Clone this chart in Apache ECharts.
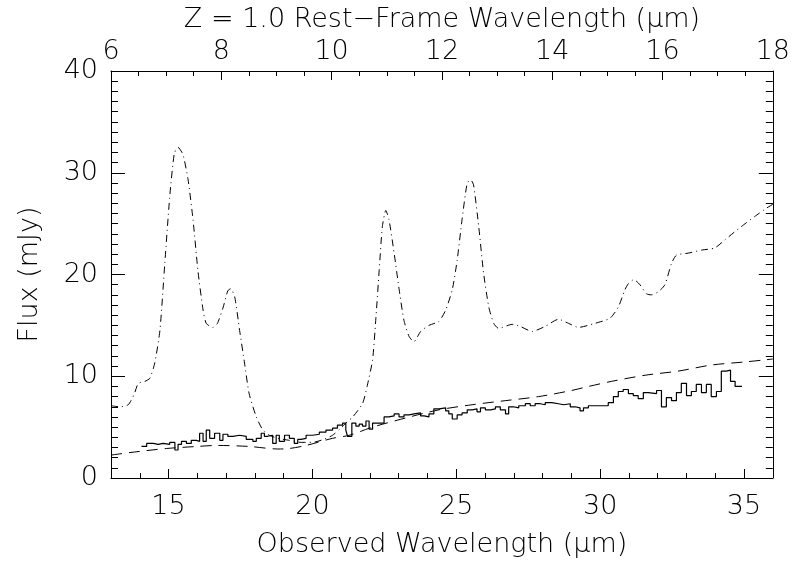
<!DOCTYPE html>
<html><head><meta charset="utf-8">
<script src="https://cdn.jsdelivr.net/npm/echarts@6/dist/echarts.min.js"></script>
<style>html,body{margin:0;padding:0;background:#fff}#c{width:793px;height:563px}</style>
</head><body><div id="c"></div>
<script>
// Bottom axis (observed wavelength) ticks
const obsMajorTicks = [15, 20, 25, 30, 35];
const obsMinorTicks = [14, 16, 17, 18, 19, 21, 22, 23, 24, 26, 27, 28, 29, 31, 32, 33, 34];
// Dash-dot model spectrum
const modelWave = [13.0,13.3,13.6,13.8,13.95,14.18,14.35,14.52,14.7,14.87,15.04,15.2,15.33,15.5,15.68,15.85,16.02,16.2,16.31,16.54,16.7,16.9,17.06,17.16,17.3,17.47,17.64,17.8,18.05,18.28,18.5,18.8,19.2,19.6,20.0,20.4,20.7,20.95,21.2,21.4,21.74,21.9,22.09,22.2,22.32,22.43,22.55,22.66,22.84,23.0,23.18,23.36,23.53,23.76,24.05,24.4,24.63,24.86,25.03,25.2,25.38,25.5,25.6,25.78,25.95,26.13,26.3,26.47,26.94,27.22,27.63,28.09,28.55,28.9,29.25,29.82,30.34,30.63,30.86,30.98,31.17,31.38,31.61,31.78,32.02,32.25,32.48,32.65,33.06,33.52,33.98,34.33,34.9,35.37,35.77,36.0];
const modelFlux = [7.1,7.0,7.2,8.2,9.3,9.5,9.8,11.3,14.5,21.1,27.6,31.9,32.5,31.8,29.3,25.4,20.4,16.5,15.2,14.8,15.2,16.8,18.4,18.6,17.8,14.5,11.3,8.3,6.0,4.7,4.2,3.9,3.7,3.5,3.5,3.8,4.2,4.8,5.5,6.0,7.3,9.0,11.6,15.5,20.4,24.7,26.3,25.4,22.1,18.8,15.5,13.9,13.4,14.4,15.0,15.4,16.5,18.5,21.4,25.4,29.0,29.3,28.8,24.7,20.1,16.8,15.2,14.7,15.1,14.9,14.4,14.9,15.6,15.2,14.8,15.2,15.7,16.8,18.5,19.1,19.5,19.0,18.1,18.0,18.3,19.0,21.1,21.9,22.1,22.4,22.6,23.4,24.7,25.7,26.5,26.9];
// Dashed continuum
const contWave = [13.0,13.66,14.93,16.0,16.66,17.8,18.8,19.2,19.78,20.7,21.28,22.09,23.24,24.4,25.55,26.7,27.86,29.0,29.6,30.4,31.56,32.7,33.86,35.0,35.7,36.0];
const contFlux = [2.25,2.5,2.9,3.1,3.2,3.1,2.85,2.9,3.2,3.9,4.2,5.0,5.9,6.7,7.2,7.6,8.0,8.6,9.0,9.5,10.1,10.5,11.1,11.4,11.6,11.7];
// Solid observed spectrum (bin left edges and flux)
const specWave = [14.06,14.24,14.47,14.64,14.81,15.04,15.22,15.33,15.45,15.62,15.79,15.97,16.08,16.2,16.31,16.43,16.6,16.78,16.89,17.06,17.24,17.47,17.7,17.93,18.05,18.22,18.33,18.45,18.62,18.74,18.85,19.03,19.2,19.37,19.49,19.6,19.78,20.01,20.24,20.47,20.7,20.87,21.05,21.16,21.22,21.37,21.51,21.625,21.74,21.86,21.97,22.09,22.49,22.66,22.84,23.01,23.18,23.36,23.53,23.76,23.88,24.05,24.22,24.4,24.63,24.74,24.86,25.03,25.2,25.38,25.55,25.72,25.84,26.01,26.19,26.36,26.53,26.71,26.82,26.99,27.17,27.4,27.57,27.74,27.92,28.09,28.32,28.55,28.73,28.96,29.13,29.3,29.42,29.59,30.28,30.46,30.63,30.8,30.98,31.15,31.32,31.5,31.67,31.96,32.13,32.3,32.48,32.65,32.82,33.0,33.17,33.34,33.52,33.69,33.86,34.04,34.21,34.38,34.53,34.69,34.93];
const specFlux = [3.1,3.4,3.3,3.4,3.3,3.5,2.75,3.3,3.6,3.4,3.7,3.6,4.4,3.6,4.7,3.9,4.4,3.7,4.3,4.1,4.2,4.1,3.8,3.6,3.9,4.4,4.1,4.2,3.4,4.2,3.6,4.2,3.9,3.4,3.8,3.9,4.2,4.3,4.5,4.7,4.9,5.2,5.4,4.7,4.1,5.4,5.1,5.3,5.1,5.6,4.8,5.4,6.0,6.1,6.3,6.0,6.2,6.3,6.4,6.1,6.0,6.3,6.8,6.9,6.6,6.3,5.8,6.2,6.4,6.7,6.8,6.5,6.9,6.7,6.8,7.0,6.7,6.3,7.0,6.9,7.1,7.3,7.1,7.3,7.2,7.4,7.3,7.2,7.3,7.0,6.9,6.6,6.9,7.1,7.4,8.0,8.5,8.7,8.3,8.1,7.8,8.4,8.3,8.6,7.0,7.9,7.6,8.4,9.3,8.1,8.5,9.2,8.4,9.2,8.0,8.5,10.5,10.6,9.5,9.0,9.0];

const zip = (a, b) => a.map((v, i) => [v, b[i]]);
const FONT = 'DejaVu Sans';
const txt = { fontFamily: FONT, fontSize: 27, fontWeight: 200, color: '#000' };
const axLine = { show: true, lineStyle: { color: '#000', width: 1 } };

const chart = echarts.init(document.getElementById('c'), null, { renderer: 'canvas' });
chart.setOption({
  animation: false,
  backgroundColor: '#fff',
  title: { text: 'Z = 1.0 Rest\u2212Frame Wavelength (\u03bcm)', left: 442, top: 6, textAlign: 'center',
    padding: 0, textStyle: txt },
  grid: { left: 111, right: 19, top: 71, bottom: 85, containLabel: false },
  xAxis: [
    { type: 'value', position: 'bottom', min: 13, max: 36,
      axisLine: axLine,
      axisTick: { show: true, inside: true, length: 9, customValues: obsMajorTicks, lineStyle: { color: '#000' } },
      axisLabel: Object.assign({ margin: 15, customValues: obsMajorTicks }, txt),
      splitLine: { show: false },
      name: 'Observed Wavelength (\u03bcm)', nameLocation: 'middle', nameGap: 53,
      nameTextStyle: txt },
    { type: 'value', position: 'bottom', min: 13, max: 36,
      axisLine: { show: false },
      axisTick: { show: true, inside: true, length: 5, customValues: obsMinorTicks, lineStyle: { color: '#000' } },
      axisLabel: { show: false }, splitLine: { show: false } },
    { type: 'value', position: 'top', min: 6, max: 18, interval: 2,
      axisLine: axLine,
      axisTick: { show: true, inside: true, length: 9, lineStyle: { color: '#000' } },
      minorTick: { show: true, splitNumber: 4, length: 5, lineStyle: { color: '#000' } },
      axisLabel: Object.assign({ margin: 6 }, txt),
      splitLine: { show: false } }
  ],
  yAxis: [
    { type: 'value', position: 'left', min: 0, max: 40, interval: 10,
      axisLine: axLine,
      axisTick: { show: true, inside: true, length: 14, lineStyle: { color: '#000' } },
      minorTick: { show: true, splitNumber: 10, length: 7, lineStyle: { color: '#000' } },
      axisLabel: Object.assign({ margin: 13 }, txt),
      splitLine: { show: false },
      name: 'Flux (mJy)', nameLocation: 'middle', nameGap: 68, nameRotate: 90,
      nameTextStyle: txt },
    { type: 'value', position: 'right', min: 0, max: 40, interval: 10,
      axisLine: axLine,
      axisTick: { show: true, inside: true, length: 14, lineStyle: { color: '#000' } },
      minorTick: { show: true, splitNumber: 10, length: 7, lineStyle: { color: '#000' } },
      axisLabel: { show: false }, splitLine: { show: false } }
  ],
  series: [
    { type: 'line', xAxisIndex: 0, yAxisIndex: 0, data: zip(modelWave, modelFlux),
      showSymbol: false, smooth: 0.2, clip: true,
      lineStyle: { color: '#000', width: 1, type: [7, 4, 1, 4] } },
    { type: 'line', xAxisIndex: 0, yAxisIndex: 0, data: zip(contWave, contFlux),
      showSymbol: false, smooth: 0.3, clip: true,
      lineStyle: { color: '#000', width: 1, type: [11, 7] } },
    { type: 'line', xAxisIndex: 0, yAxisIndex: 0, data: zip(specWave, specFlux),
      showSymbol: false, step: 'end', clip: true,
      lineStyle: { color: '#000', width: 1.2 } }
  ]
});
</script></body></html>
